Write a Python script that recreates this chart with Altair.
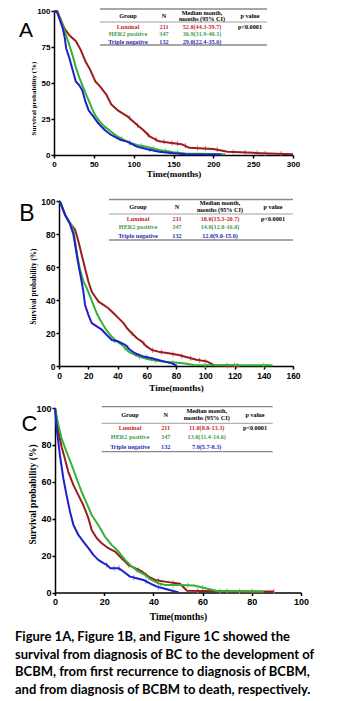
import altair as alt
import pandas as pd

# ---------------- data ----------------
GROUPS = ["Luminal", "HER2 positive", "Triple negative"]
N_VALUES = ["211", "347", "132"]
MEDIANS_A = ["52.0(44.3-59.7)", "36.9(31.9-40.1)", "29.0(22.4-35.6)"]
MEDIANS_B = ["18.0(15.3-20.7)", "14.0(12.0-16.0)", "12.0(9.0-15.0)"]
MEDIANS_C = ["11.0(8.8-13.3)", "13.0(11.4-14.6)", "7.0(5.7-8.3)"]
P_VALUE = "p<0.0001"
HEADER = ["Group", "N", "Median month,", "months (95% CI)", "p value"]

# Panel A: diagnosis of BC -> BCBM (months, survival %)
A_LUM_T = [0, 4, 7, 13, 19.5, 27.6, 33.5, 39.5, 45.6, 52, 58, 66, 72, 80, 92.7, 104, 112, 120, 132, 145, 160, 170, 200, 218, 250, 270, 300]
A_LUM_S = [100, 100, 96, 88, 83, 79, 73, 65, 59, 51, 47.5, 41.7, 35, 31, 26.6, 21, 17.4, 13, 9.5, 8.5, 7.5, 5, 4.2, 2.2, 1.5, 1, 0.5]
A_HER_T = [0, 4, 11, 15.3, 19.4, 23.4, 27.4, 31.5, 35.5, 39.5, 43.5, 47.6, 51.6, 57.7, 63.7, 71.8, 80, 92, 104, 116, 132, 150, 165, 200, 215]
A_HER_S = [100, 99, 90, 83, 76, 69, 61, 54, 48.6, 43, 38, 32.4, 27.8, 23, 19.7, 16.2, 12.7, 9.3, 7, 5.8, 3.5, 1.9, 1, 0.7, 0.5]
A_TN_T = [0, 4, 11, 13.3, 15.3, 19.4, 23.4, 27.4, 31.5, 35.5, 39.5, 43.5, 49.6, 55.6, 63.7, 71.8, 84, 92, 104, 116, 132, 150, 165, 210]
A_TN_S = [100, 99, 88, 82, 74, 67, 59, 51, 48.6, 45, 37, 31, 26.6, 22, 17.4, 13.9, 10.4, 9.3, 5.8, 4.2, 2.3, 1.2, 0.5, 0.3]
# censored observations (tick marks)
A_LUM_CT = [95, 105, 118, 128, 138, 148, 155, 165, 180, 190, 205, 225, 240, 255, 265, 285]
A_LUM_CS = [25.8, 20.5, 14, 10.8, 9.2, 8.4, 8, 6.5, 4.8, 4.5, 3.8, 2, 1.7, 1.4, 1.1, 0.8]
A_HER_CT = [85, 95, 110, 125, 140, 155]
A_HER_CS = [11.5, 8.7, 6.4, 4.5, 2.8, 1.6]
A_TN_CT = [95, 120, 145]
A_TN_CS = [8.5, 3.7, 1.5]

# Panel B: first recurrence -> BCBM
B_LUM_T = [0, 1, 4.1, 7.5, 11, 13.3, 15.5, 17.8, 20.1, 22.4, 24.7, 27, 30.4, 33.8, 37.3, 40.7, 44.1, 46.4, 49.8, 53.3, 56.7, 60.1, 63.5, 68, 75, 81.8, 87, 94, 101, 104, 106, 124]
B_LUM_S = [100, 99, 91.7, 86.6, 82.6, 75.5, 67.4, 59.3, 51.2, 45, 42, 39, 37, 35, 32, 29, 26, 23, 19.8, 16.8, 14.8, 11.7, 9.7, 8.7, 7.7, 6.7, 5.5, 3.8, 2.8, 1.5, 0.5, 0.2]
B_HER_T = [0, 1, 4.1, 7.5, 9.8, 11, 12.8, 14.4, 16.7, 19, 21.3, 23.5, 25.8, 28.1, 31.5, 35, 38.4, 43, 47.5, 52, 56.7, 63.5, 72.7, 85, 92, 146]
B_HER_S = [100, 99, 91.7, 87, 82.6, 75.5, 65.4, 58.3, 51.2, 47.2, 42, 37, 32, 28, 23, 18.8, 15.8, 12.8, 8.7, 6.7, 5.1, 3.6, 2.6, 1.6, 0.6, 0.4]
B_TN_T = [0, 1, 4.1, 7.5, 9.8, 11, 13.3, 15.1, 16.7, 17.8, 20.1, 22.4, 25.8, 29.3, 32.7, 36.1, 40.7, 45.3, 48.7, 52, 57.8, 63.5, 70.4, 77.3, 80.7]
B_TN_S = [100, 99, 91.7, 86, 80, 73.5, 61.3, 53, 45, 37, 31, 26, 24, 22, 18.8, 15.8, 14.8, 12.8, 9.7, 7.7, 5.7, 4.7, 3, 1.6, 0]
B_LUM_CT = [50, 58, 64, 70, 78, 84, 90, 96, 100, 115, 122]
B_LUM_CS = [19.7, 13.8, 9.6, 8.4, 7.2, 6.1, 4.7, 3.5, 2.9, 0.3, 0.2]
B_HER_CT = [45, 55, 66, 78, 100, 120, 140]
B_HER_CS = [10.8, 5.5, 3.2, 2.1, 0.5, 0.5, 0.4]
B_TN_CT = [38, 47, 60]
B_TN_CS = [15.4, 11.2, 5.3]

# Panel C: diagnosis of BCBM -> death
C_LUM_T = [0, 1.4, 2.7, 4, 5.4, 7.5, 9.5, 11.5, 13.6, 14.9, 17, 19, 21.7, 24.4, 27.1, 29.8, 32.5, 35.3, 38, 40.7, 44.7, 50.8, 53.7, 60, 89]
C_LUM_S = [100, 87, 78.9, 72.6, 65.4, 58.2, 52.8, 47.4, 40.2, 33.9, 29.4, 26.7, 24, 22.2, 18.6, 15, 13.2, 11.4, 8.6, 6.8, 5.9, 4.7, 1, 0.8, 0.5]
C_HER_T = [0, 1.4, 2.7, 4.7, 6.8, 8.8, 10.8, 12.9, 14.9, 17.6, 20.3, 23, 25.8, 28.5, 31.2, 33.9, 36.6, 39.3, 42, 44.7, 51, 56.5, 62, 66, 85]
C_HER_S = [100, 90.6, 83.4, 76.2, 69, 61.8, 54.6, 48.3, 42, 36.6, 30.3, 25.8, 22.2, 17.7, 14, 11.4, 9.5, 6.8, 5, 4.1, 4, 3.8, 2, 0.8, 0.5]
C_TN_T = [0, 0.7, 2, 3.4, 4.7, 6.1, 7.5, 9.5, 11.5, 13.6, 15.6, 17.6, 19.7, 21, 22.4, 25.8, 27.8, 30.5, 33.2, 35.9, 38.6, 41.4, 44.7, 48.8, 50.2]
C_TN_S = [100, 88.8, 74.4, 61.8, 52.8, 43.8, 36.6, 31.2, 27.6, 24, 20.4, 17.7, 15.9, 15, 13.2, 13.2, 11.4, 8.6, 7.7, 6.8, 5, 3.2, 2, 0.5, 0]
C_LUM_CT = [30, 34, 37, 42, 48, 58, 70, 80, 89]
C_LUM_CS = [14.8, 12.2, 9.5, 6.4, 5.2, 0.8, 0.7, 0.6, 0.5]
C_HER_CT = [33, 38, 43, 48, 54, 60, 67, 75]
C_HER_CS = [12, 8, 4.6, 4, 3.9, 2.6, 0.8, 0.6]
C_TN_CT = [21, 24, 26, 32, 37, 42]
C_TN_CS = [15, 13.2, 13.2, 8, 6.1, 2.9]

CAPTION_LINES = [
    "Figure 1A, Figure 1B, and Figure 1C showed the",
    "survival from diagnosis of BC to the development of",
    "BCBM, from first recurrence to diagnosis of BCBM,",
    "and from diagnosis of BCBM to death, respectively.",
]

# ---------------- styles / layout ----------------
W, H = 356, 701
LINE_COLORS = ["#9b1c20", "#33b333", "#1f1fcc"]
CENSOR_COLORS = ["#e07070", "#80d080", "#7a90e8"]
TEXT_COLORS = ["#c8282d", "#3f9a55", "#2a2ab8"]

GEOM = {
    "A": dict(x0=54, x1=293, y0=155, y1=11, xmax=300, xticks=list(range(0, 301, 50)), yticks=[0, 25, 50, 75, 100],
              lab=8, xts=9, yts=7, xtdy=18, ytc=(33, 98), letter=("A", 26, 31, 21),
              rx=(100, 267), ry=(9, 22, 45), cols=(128, 164, 202, 250), hy=16, my=(12.6, 19), rows=(26.5, 34, 41.5)),
    "B": dict(x0=59, x1=293, y0=366, y1=201, xmax=160, xticks=list(range(0, 161, 20)), yticks=list(range(0, 101, 20)),
              lab=8.5, xts=9, yts=7.2, xtdy=21, ytc=(33, 286), letter=("B", 27, 214, 23),
              rx=(109, 293), ry=(199.5, 214, 240), cols=(138, 177, 220, 273), hy=206.7, my=(203, 210.3), rows=(218.7, 227, 235.7)),
    "C": dict(x0=55, x1=301, y0=592.5, y1=408, xmax=100, xticks=list(range(0, 101, 20)), yticks=list(range(0, 101, 20)),
              lab=9, xts=9.5, yts=9.5, xtdy=23.5, ytc=(32, 494), letter=("C", 29.5, 423.5, 22),
              rx=(101.7, 272.7), ry=(406.7, 423.3, 451.7), cols=(130, 165.7, 206.7, 255), hy=415, my=(411, 418.3), rows=(427.7, 437.3, 446.7)),
}


def panel(key, curves, censors, medians):
    g = GEOM[key]

    def xs():
        return alt.Scale(domain=[0, g["xmax"]], range=[g["x0"], g["x1"]], nice=False, zero=False)

    def ys():
        return alt.Scale(domain=[0, 100], range=[g["y0"], g["y1"]], nice=False, zero=False)

    def dx(px):
        return (px - g["x0"]) / (g["x1"] - g["x0"]) * g["xmax"]

    def dy(py):
        return (g["y0"] - py) / (g["y0"] - g["y1"]) * 100

    xaxis = alt.Axis(orient="bottom", offset=g["y0"] - H, values=g["xticks"], title="Time(months)",
                     domainColor="black", domainWidth=1.5, tickColor="black", tickWidth=1.5, tickSize=3,
                     labelFont="Liberation Sans", labelFontWeight="bold", labelFontSize=g["lab"],
                     labelColor="black", labelPadding=2, labelFlush=False, labelOverlap=False,
                     titleFont="Liberation Serif", titleFontWeight="bold", titleFontSize=g["xts"],
                     titleColor="black", titleY=g["xtdy"], titleBaseline="middle", grid=False)
    yaxis = alt.Axis(orient="left", offset=-g["x0"], values=g["yticks"], title="Survival probability (%)",
                     domainColor="black", domainWidth=1.5, tickColor="black", tickWidth=1.5, tickSize=3,
                     labelFont="Liberation Sans", labelFontWeight="bold", labelFontSize=g["lab"],
                     labelColor="black", labelPadding=1, labelFlush=False, labelOverlap=False,
                     titleFont="Liberation Serif", titleFontWeight="bold", titleFontSize=g["yts"],
                     titleColor="black", titleX=g["ytc"][0] - g["x0"], titleY=g["ytc"][1],
                     titleBaseline="middle", titleAlign="center", titleAngle=270, grid=False)

    rows = []
    for gi, (ts, ss) in enumerate(curves):
        for k, (t, s) in enumerate(zip(ts, ss)):
            rows.append({"t": t, "s": s, "group": GROUPS[gi], "k": k})
    df = pd.DataFrame(rows)

    lines = alt.Chart(df).mark_line(strokeWidth=2, strokeJoin="round").encode(
        x=alt.X("t:Q", scale=xs(), axis=xaxis),
        y=alt.Y("s:Q", scale=ys(), axis=yaxis),
        color=alt.Color("group:N", scale=alt.Scale(domain=GROUPS, range=LINE_COLORS), legend=None),
        order="k:Q",
    )

    crow = []
    for gi, (ts, ss) in enumerate(censors):
        for t, s in zip(ts, ss):
            crow.append({"t": t, "s": s, "c": CENSOR_COLORS[gi]})
    cens = alt.Chart(pd.DataFrame(crow)).mark_point(
        shape="stroke", angle=90, size=28, strokeWidth=1, opacity=1
    ).encode(
        x=alt.X("t:Q", scale=xs(), axis=None),
        y=alt.Y("s:Q", scale=ys(), axis=None),
        color=alt.Color("c:N", scale=None),
    )

    c1, c2, c3, c4 = g["cols"]
    trows = [
        {"x": dx(c1), "y": dy(g["hy"]), "text": HEADER[0], "c": "black"},
        {"x": dx(c2), "y": dy(g["hy"]), "text": HEADER[1], "c": "black"},
        {"x": dx(c3), "y": dy(g["my"][0]), "text": HEADER[2], "c": "black"},
        {"x": dx(c3), "y": dy(g["my"][1]), "text": HEADER[3], "c": "black"},
        {"x": dx(c4), "y": dy(g["hy"]), "text": HEADER[4], "c": "black"},
        {"x": dx(c4), "y": dy(g["rows"][0]), "text": P_VALUE, "c": "black"},
    ]
    for i in range(3):
        yy = dy(g["rows"][i])
        trows.append({"x": dx(c1), "y": yy, "text": GROUPS[i], "c": TEXT_COLORS[i]})
        trows.append({"x": dx(c2), "y": yy, "text": N_VALUES[i], "c": TEXT_COLORS[i]})
        trows.append({"x": dx(c3), "y": yy, "text": medians[i], "c": TEXT_COLORS[i]})
    table = alt.Chart(pd.DataFrame(trows)).mark_text(
        font="Liberation Serif", fontWeight="bold", fontSize=6.2, align="center", baseline="middle"
    ).encode(
        x=alt.X("x:Q", scale=xs(), axis=None),
        y=alt.Y("y:Q", scale=ys(), axis=None),
        text="text:N",
        color=alt.Color("c:N", scale=None),
    )

    rdf = pd.DataFrame([
        {"x": dx(g["rx"][0]), "x2": dx(g["rx"][1]), "y": dy(g["ry"][0]), "w": 1.3, "c": "#8a8a8a"},
        {"x": dx(g["rx"][0]), "x2": dx(g["rx"][1]), "y": dy(g["ry"][1]), "w": 1.0, "c": "#a0a0a0"},
        {"x": dx(g["rx"][0]), "x2": dx(g["rx"][1]), "y": dy(g["ry"][2]), "w": 1.3, "c": "#8a8a8a"},
    ])
    rules = alt.Chart(rdf).mark_rule().encode(
        x=alt.X("x:Q", scale=xs(), axis=None),
        x2="x2:Q",
        y=alt.Y("y:Q", scale=ys(), axis=None),
        strokeWidth=alt.StrokeWidth("w:Q", scale=None),
        color=alt.Color("c:N", scale=None),
    )

    lt, lx, ly, ls = g["letter"]
    letter = alt.Chart(pd.DataFrame([{"x": dx(lx), "y": dy(ly), "text": lt}])).mark_text(
        font="Liberation Sans", fontSize=ls, align="center", baseline="middle", color="black"
    ).encode(
        x=alt.X("x:Q", scale=xs(), axis=None),
        y=alt.Y("y:Q", scale=ys(), axis=None),
        text="text:N",
    )
    return [cens, lines, rules, table, letter]


layers = []
layers += panel("A", [(A_LUM_T, A_LUM_S), (A_HER_T, A_HER_S), (A_TN_T, A_TN_S)],
                [(A_LUM_CT, A_LUM_CS), (A_HER_CT, A_HER_CS), (A_TN_CT, A_TN_CS)], MEDIANS_A)
layers += panel("B", [(B_LUM_T, B_LUM_S), (B_HER_T, B_HER_S), (B_TN_T, B_TN_S)],
                [(B_LUM_CT, B_LUM_CS), (B_HER_CT, B_HER_CS), (B_TN_CT, B_TN_CS)], MEDIANS_B)
layers += panel("C", [(C_LUM_T, C_LUM_S), (C_HER_T, C_HER_S), (C_TN_T, C_TN_S)],
                [(C_LUM_CT, C_LUM_CS), (C_HER_CT, C_HER_CS), (C_TN_CT, C_TN_CS)], MEDIANS_C)

cap_df = pd.DataFrame({"i": list(range(len(CAPTION_LINES))), "line": CAPTION_LINES, "x": 0})
caption = alt.Chart(cap_df).mark_text(
    align="left", baseline="middle", font="Lato", fontWeight="bold", fontSize=13, color="black"
).encode(
    x=alt.X("x:Q", scale=alt.Scale(domain=[0, 1], range=[15, 340]), axis=None),
    y=alt.Y("i:Q", scale=alt.Scale(domain=[0, 3], range=[637, 690]), axis=None),
    text="line:N",
)
layers.append(caption)

chart = alt.layer(*layers).resolve_scale(
    x="independent", y="independent"
).properties(
    width=W, height=H, padding=0, background="white",
    autosize=alt.AutoSizeParams(type="none"),
).configure_view(stroke=None)

chart.save("out.html", embed_options={"renderer": "svg", "actions": False})
